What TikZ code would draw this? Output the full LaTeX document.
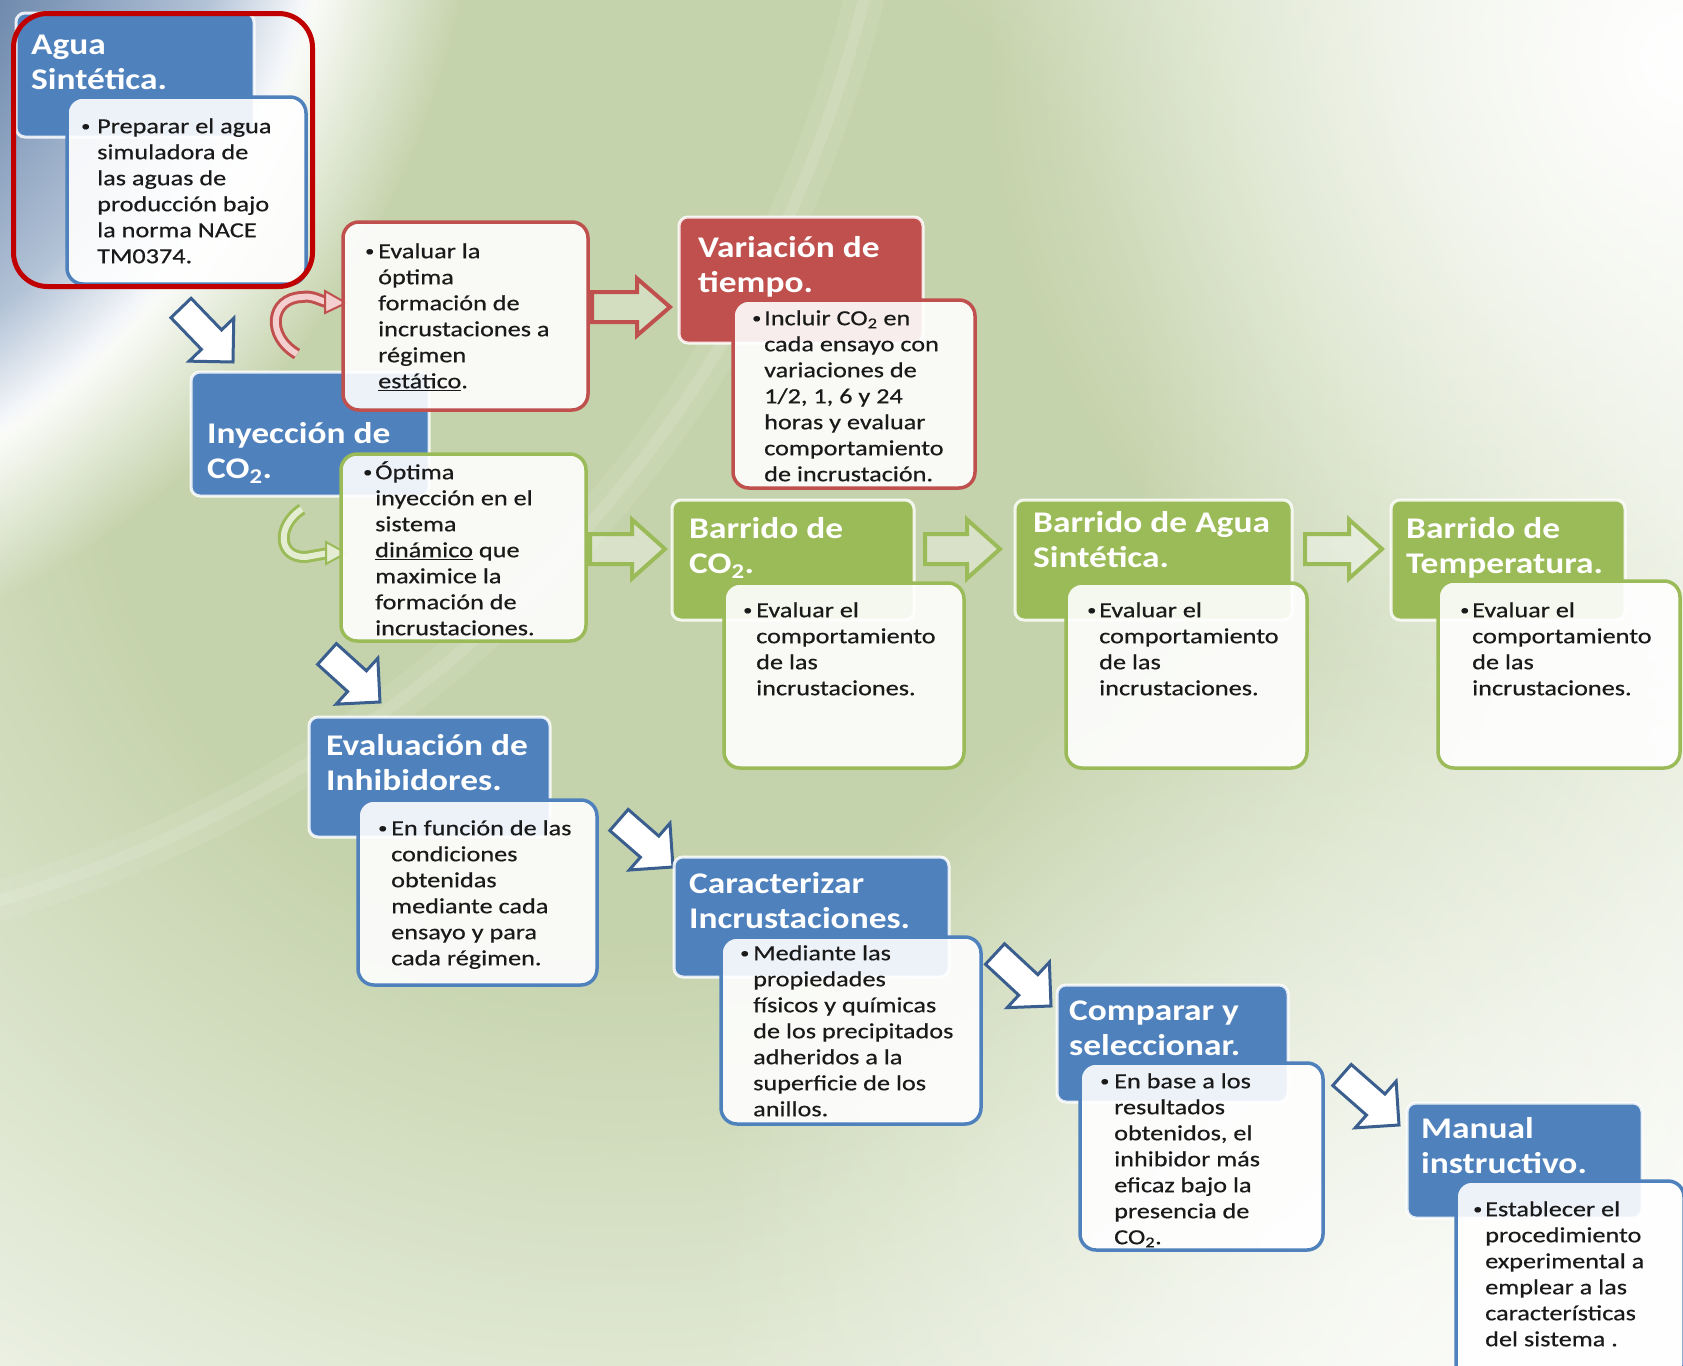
\documentclass[tikz,border=0pt]{standalone}
\usepackage{fontspec}
\setmainfont{Carlito}
\newfontfamily\bodyfam{Carlito}[FakeStretch=1.22,FakeBold=0.5]
\newfontfamily\titlefam{Carlito}[FakeStretch=1.18]
\usetikzlibrary{calc,fadings}

% palette
\definecolor{hdrBlue}{HTML}{4F81BD}
\definecolor{hdrGreen}{HTML}{9BBB59}
\definecolor{hdrRed}{HTML}{C0504D}
\definecolor{frameRed}{HTML}{C00000}
\definecolor{arrBlue}{HTML}{3A5F8F}
\definecolor{bgG}{HTML}{C5D3AC}
\definecolor{cornerDark}{HTML}{4E6F97}
\definecolor{cornerMid}{HTML}{6F8AAE}
\definecolor{cornerLight}{HTML}{B2C2D6}
\definecolor{bodyInk}{HTML}{1A1A1A}
\definecolor{pinkFill}{HTML}{F3D0CF}
\definecolor{lightGreen}{HTML}{E4EDD2}

% background shadings and fadings (the filled path spans 0..25bp)
\pgfdeclareradialshading{bgglow}{\pgfpoint{0bp}{0bp}}{color(0bp)=(bgG); color(9bp)=(bgG); color(25bp)=(white); color(50bp)=(white)}
\pgfdeclareradialshading{cornershade}{\pgfpoint{0bp}{0bp}}{color(0bp)=(cornerDark); color(12.5bp)=(cornerMid); color(18bp)=(cornerLight); color(21bp)=(white); color(50bp)=(white)}
\pgfdeclareradialshading{cornermask}{\pgfpoint{0bp}{0bp}}{color(0bp)=(white); color(20.5bp)=(white); color(25bp)=(black); color(50bp)=(black)}
\pgfdeclarefading{cornerfade}{\pgfuseshading{cornermask}}
\pgfdeclareradialshading{glowmask}{\pgfpoint{0bp}{0bp}}{color(0bp)=(white); color(25bp)=(black); color(50bp)=(black)}
\pgfdeclarefading{glowfade}{\pgfuseshading{glowmask}}

% type
\newcommand\ttlfont{\titlefam\bfseries\fontsize{30}{35.4}\selectfont}
\newcommand\bdyfont{\bodyfam\fontsize{21.5}{26}\selectfont}
\newcommand\tstrut{\rule{0pt}{27pt}}
\newcommand\bstrut{\rule{0pt}{20pt}}

% block arrow from a tail point to a tip point:
% #1 style, #2 tail, #3 tip, #4 shaft width, #5 head width, #6 head length
\newcommand\blockarrow[6]{%
  \draw[#1] let \p1=(#2), \p2=(#3),
      \n1={atan2(\y2-\y1,\x2-\x1)}, \n2={veclen(\x2-\x1,\y2-\y1)} in
    [shift={(\p1)}, rotate=\n1]
    (0pt,{#4pt/2}) -- ({\n2-#6pt},{#4pt/2}) -- ({\n2-#6pt},{#5pt/2})
    -- ({\n2+0pt},0pt)
    -- ({\n2-#6pt},{-#5pt/2}) -- ({\n2-#6pt},{-#4pt/2}) -- (0pt,{-#4pt/2}) -- cycle;}

\tikzset{
  hdr/.style={draw=white, draw opacity=0.85, line width=3pt, rounded corners=9pt,
    anchor=north west, inner sep=0pt, outer sep=0pt},
  card/.style={line width=3.5pt, rounded corners=16pt, fill=white, fill opacity=0.9,
    anchor=north west, inner sep=0pt, outer sep=0pt},
  ttl/.style={anchor=north west, inner sep=0pt, align=left, text=white,
    font=\ttlfont, yshift=27pt},
  bdy/.style={anchor=north west, inner sep=0pt, align=left, text=bodyInk,
    font=\bdyfont, yshift=20pt},
  bul/.style={anchor=base west, inner sep=0pt, text=bodyInk,
    font=\bodyfam\fontsize{15}{15}\selectfont, xshift=-3pt, yshift=2pt},
  blueArr/.style={draw=arrBlue, fill=white, line width=3pt, line join=miter},
  redArr/.style={draw=hdrRed, line width=4pt, fill=white, fill opacity=0.25, line join=miter},
  greenArr/.style={draw=hdrGreen, line width=4pt, fill=white, fill opacity=0.35, line join=miter},
}

\begin{document}
\begin{tikzpicture}[x=1pt,y=-1pt]
\useasboundingbox (0,0) rectangle (1683,1365);

% ---------- background ----------
\begin{scope}
  \clip (0,0) rectangle (1683,1365);
  \fill[white] (0,0) rectangle (1683,1365);
  \shade[shading=bgglow] (620,420) circle (1450);
  \fill[white, path fading=glowfade] (1683,60) circle (700);
  \fill[white, path fading=glowfade, opacity=0.6] (1400,1300) circle (700);
  \draw[white, line width=40, opacity=0.08] (-350,-300) circle (1250);
  \draw[white, line width=12, opacity=0.10] (-350,-300) circle (1250);
  \shade[shading=cornershade, path fading=cornerfade] (-400,-185) circle (880);
\end{scope}

% ---------- connector end points ----------
\coordinate (a1s) at (181,308);  \coordinate (a1e) at (233,362);
\coordinate (a2s) at (327,654);  \coordinate (a2e) at (380,702);
\coordinate (a3s) at (619,820);  \coordinate (a3e) at (673,867);
\coordinate (a4s) at (995,954);  \coordinate (a4e) at (1051,1006);
\coordinate (a5s) at (1342,1075); \coordinate (a5e) at (1399,1125);
\coordinate (r1s) at (592,307);  \coordinate (r1e) at (670,307);
\coordinate (g1s) at (590,549);  \coordinate (g1e) at (665,549);
\coordinate (g2s) at (925,549);  \coordinate (g2e) at (1000,549);
\coordinate (g3s) at (1305,549); \coordinate (g3e) at (1382,549);

% ---------- block arrows ----------
\blockarrow{blueArr}{a1s}{a1e}{28}{62}{31}
\blockarrow{blueArr}{a2s}{a2e}{28}{62}{31}
\blockarrow{blueArr}{a3s}{a3e}{28}{62}{31}
\blockarrow{blueArr}{a4s}{a4e}{28}{62}{31}
\blockarrow{blueArr}{a5s}{a5e}{28}{62}{31}
\blockarrow{redArr}{r1s}{r1e}{30}{57}{33}
\blockarrow{greenArr}{g1s}{g1e}{30}{59}{33}
\blockarrow{greenArr}{g2s}{g2e}{30}{59}{33}
\blockarrow{greenArr}{g3s}{g3e}{30}{59}{33}

% ---------- curved arrows beside "Inyección de CO2" ----------
\coordinate (cr0) at (297,354); \coordinate (cr1) at (302,297);
\coordinate (cr2) at (327,302); \coordinate (cr3) at (346,303);
\draw[hdrRed, line width=12pt]
  (cr0) .. controls (266,336) and (270,298) .. (cr1) .. controls (313,295) and (320,301) .. (cr2);
\draw[pinkFill, line width=6pt]
  (cr0) .. controls (266,336) and (270,298) .. (cr1) .. controls (313,295) and (320,301) .. (cr2);
\draw[hdrRed, fill=pinkFill, line width=2pt, line join=miter]
  ($(cr2)+(-2,-11)$) -- (cr3) -- ($(cr2)+(-2,11)$) -- cycle;

\coordinate (cg0) at (302,509); \coordinate (cg1) at (306,557);
\coordinate (cg2) at (328,553); \coordinate (cg3) at (346,553);
\draw[hdrGreen, line width=12pt]
  (cg0) .. controls (276,526) and (278,558) .. (cg1) -- (cg2);
\draw[lightGreen, line width=6pt]
  (cg0) .. controls (276,526) and (278,558) .. (cg1) -- (cg2);
\draw[hdrGreen, fill=lightGreen, line width=2pt, line join=miter]
  ($(cg2)+(-2,-11)$) -- (cg3) -- ($(cg2)+(-2,11)$) -- cycle;

% ---------- 1. Agua sintética ----------
\node[hdr, fill=hdrBlue, minimum width=238pt, minimum height=124pt] (H1) at (16,13) {};
\node[card, draw=hdrBlue, minimum width=239pt, minimum height=187pt] (C1) at (67,97) {};
\node[ttl] (L1) at (31,54) {\tstrut Agua\\Sintética.};
\node[bul] (D1) at (84,133) {\textbullet};
\node[bdy] (B1) at (97,133) {\bstrut Preparar el agua\\simuladora de\\las aguas de\\producción bajo\\la norma NACE\\TM0374.};

% ---------- 2. Inyección de CO2 ----------
\node[hdr, fill=hdrBlue, minimum width=238pt, minimum height=124pt] (H2) at (191,372) {};
\node[ttl] (L2) at (207,443) {\tstrut Inyección de\\CO\textsubscript{2}.};
\node[card, draw=hdrRed, minimum width=245pt, minimum height=188pt] (C2a) at (343,222) {};
\node[bul] (D2a) at (368,258) {\textbullet};
\node[bdy] (B2a) at (378,258) {\bstrut Evaluar la\\óptima\\formación de\\incrustaciones a\\régimen\\\underline{estático}.};
\node[card, draw=hdrGreen, minimum width=245pt, minimum height=187pt] (C2b) at (341,454) {};
\node[bul] (D2b) at (366,479) {\textbullet};
\node[bdy] (B2b) at (375,479) {\bstrut Óptima\\inyección en el\\sistema\\\underline{dinámico} que\\maximice la\\formación de\\incrustaciones.};

% ---------- 3. Variación de tiempo ----------
\node[hdr, fill=hdrRed, minimum width=244pt, minimum height=126pt] (H3) at (679,217) {};
\node[card, draw=hdrRed, minimum width=242pt, minimum height=188pt] (C3) at (733,300) {};
\node[ttl] (L3) at (698,257) {\tstrut Variación de\\tiempo.};
\node[bul] (D3) at (755,325) {\textbullet};
\node[bdy] (B3) at (764,325) {\bstrut Incluir CO\textsubscript{2} en\\cada ensayo con\\variaciones de\\1/2, 1, 6 y 24\\horas y evaluar\\comportamiento\\de incrustación.};

% ---------- 4. Barrido de CO2 ----------
\node[hdr, fill=hdrGreen, minimum width=242pt, minimum height=120pt] (H4) at (672,500) {};
\node[card, draw=hdrGreen, minimum width=240pt, minimum height=185pt] (C4) at (724,583) {};
\node[ttl] (L4) at (689,538) {\tstrut Barrido de\\CO\textsubscript{2}.};
\node[bul] (D4) at (746,617) {\textbullet};
\node[bdy] (B4) at (756,617) {\bstrut Evaluar el\\comportamiento\\de las\\incrustaciones.};

% ---------- 5. Barrido de agua sintética ----------
\node[hdr, fill=hdrGreen, minimum width=277pt, minimum height=120pt] (H5) at (1015,500) {};
\node[card, draw=hdrGreen, minimum width=241pt, minimum height=185pt] (C5) at (1066,583) {};
\node[ttl] (L5) at (1033,532) {\tstrut Barrido de Agua\\Sintética.};
\node[bul] (D5) at (1090,617) {\textbullet};
\node[bdy] (B5) at (1099,617) {\bstrut Evaluar el\\comportamiento\\de las\\incrustaciones.};

% ---------- 6. Barrido de temperatura ----------
\node[hdr, fill=hdrGreen, minimum width=234pt, minimum height=120pt] (H6) at (1391,500) {};
\node[card, draw=hdrGreen, minimum width=242pt, minimum height=187pt] (C6) at (1438,581) {};
\node[ttl] (L6) at (1406,538) {\tstrut Barrido de\\Temperatura.};
\node[bul] (D6) at (1463,617) {\textbullet};
\node[bdy] (B6) at (1472,617) {\bstrut Evaluar el\\comportamiento\\de las\\incrustaciones.};

% ---------- 7. Evaluación de inhibidores ----------
\node[hdr, fill=hdrBlue, minimum width=241pt, minimum height=120pt] (H7) at (309,717) {};
\node[card, draw=hdrBlue, minimum width=239pt, minimum height=185pt] (C7) at (358,800) {};
\node[ttl] (L7) at (326,755) {\tstrut Evaluación de\\Inhibidores.};
\node[bul] (D7) at (381,835) {\textbullet};
\node[bdy] (B7) at (391,835) {\bstrut En función de las\\condiciones\\obtenidas\\mediante cada\\ensayo y para\\cada régimen.};

% ---------- 8. Caracterizar incrustaciones ----------
\node[hdr, fill=hdrBlue, minimum width=275pt, minimum height=120pt] (H8) at (674,857) {};
\node[card, draw=hdrBlue, minimum width=260pt, minimum height=187pt] (C8) at (721,937) {};
\node[ttl] (L8) at (689,893) {\tstrut Caracterizar\\Incrustaciones.};
\node[bul] (D8) at (743,960) {\textbullet};
\node[bdy] (B8) at (753,960) {\bstrut Mediante las\\propiedades\\físicos y químicas\\de los precipitados\\adheridos a la\\superficie de los\\anillos.};

% ---------- 9. Comparar y seleccionar ----------
\node[hdr, fill=hdrBlue, minimum width=231pt, minimum height=117pt] (H9) at (1057,985) {};
\node[card, draw=hdrBlue, minimum width=243pt, minimum height=187pt] (C9) at (1080,1063) {};
\node[ttl] (L9) at (1069,1020) {\tstrut Comparar y\\seleccionar.};
\node[bul] (D9) at (1103,1088) {\textbullet};
\node[bdy] (B9) at (1114,1088) {\bstrut En base a los\\resultados\\obtenidos, el\\inhibidor más\\eficaz bajo la\\presencia de\\CO\textsubscript{2}.};

% ---------- 10. Manual instructivo ----------
\node[hdr, fill=hdrBlue, minimum width=235pt, minimum height=115pt] (H10) at (1407,1103) {};
\node[card, draw=hdrBlue, minimum width=228pt, minimum height=200pt] (C10) at (1456,1181) {};
\node[ttl] (L10) at (1421,1138) {\tstrut Manual\\instructivo.};
\node[bul] (D10) at (1476,1216) {\textbullet};
\node[bdy] (B10) at (1485,1216) {\bstrut Establecer el\\procedimiento\\experimental a\\emplear a las\\características\\del sistema .};

% ---------- highlight round the first step ----------
\node[draw=frameRed, line width=5pt, rounded corners=34pt, anchor=north west,
  inner sep=0pt, minimum width=299pt, minimum height=273pt] (F1) at (11,11) {};
\end{tikzpicture}
\end{document}
